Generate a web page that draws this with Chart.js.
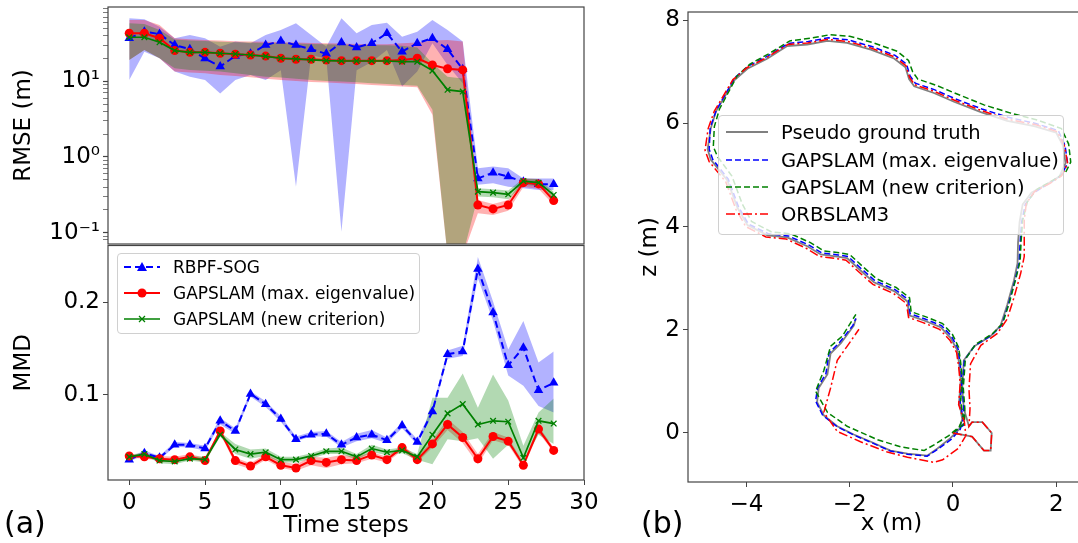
<!DOCTYPE html>
<html>
<head>
<meta charset="utf-8">
<script src="https://cdn.jsdelivr.net/npm/chart.js@4.4.1/dist/chart.umd.min.js"></script>
<style>
  body { margin: 0; background: #fff; font-family: 'DejaVu Sans', sans-serif; }
  #page { position: relative; width: 1078px; height: 543px; overflow: hidden; background: #fff; }
  .holder { position: absolute; }
  .legend { position: absolute; box-sizing: border-box; border: 1px solid #d0d0d0; border-radius: 4px; background: rgba(255, 255, 255, 0.8); color: #000; }
  .legend .row { position: absolute; left: 0; display: flex; align-items: center; white-space: nowrap; }
  .legend svg { display: block; }
  .panel-tag { position: absolute; font-size: 30px; line-height: 1; color: #000; }
</style>
</head>
<body>
<div id="page">
  <div class="holder" style="left:0;top:0;width:600px;height:250px;"><canvas id="rmseChart"></canvas></div>
  <div class="holder" style="left:0;top:240px;width:600px;height:303px;"><canvas id="mmdChart"></canvas></div>
  <div class="holder" style="left:620px;top:0;width:480px;height:543px;"><canvas id="trajChart"></canvas></div>

  <div class="legend" style="left:117px;top:253px;width:303px;height:81px;font-size:17px;">
    <div class="row" style="top:1px;height:24px;">
      <svg width="36" height="14" style="margin-left:6px"><line x1="0" y1="7" x2="36" y2="7" stroke="blue" stroke-width="2" stroke-dasharray="7 4"/><polygon points="18,2 23,11 13,11" fill="blue"/></svg>
      <span style="margin-left:13px">RBPF-SOG</span>
    </div>
    <div class="row" style="top:27px;height:24px;">
      <svg width="36" height="14" style="margin-left:6px"><line x1="0" y1="7" x2="36" y2="7" stroke="red" stroke-width="2"/><circle cx="18" cy="7" r="4.5" fill="red"/></svg>
      <span style="margin-left:13px">GAPSLAM (max. eigenvalue)</span>
    </div>
    <div class="row" style="top:53px;height:24px;">
      <svg width="36" height="14" style="margin-left:6px"><line x1="0" y1="7" x2="36" y2="7" stroke="green" stroke-width="1.7"/><path d="M15 4 L21 10 M21 4 L15 10" stroke="green" stroke-width="1.3"/></svg>
      <span style="margin-left:13px">GAPSLAM (new criterion)</span>
    </div>
  </div>

  <div class="legend" style="left:718px;top:115px;width:346px;height:120px;font-size:19.5px;">
    <div class="row" style="top:3px;height:26px;">
      <svg width="42" height="10" style="margin-left:7px"><line x1="0" y1="5" x2="42" y2="5" stroke="#808080" stroke-width="1.8"/></svg>
      <span style="margin-left:13px">Pseudo ground truth</span>
    </div>
    <div class="row" style="top:31px;height:26px;">
      <svg width="42" height="10" style="margin-left:7px"><line x1="0" y1="5" x2="42" y2="5" stroke="blue" stroke-width="1.6" stroke-dasharray="6 3"/></svg>
      <span style="margin-left:13px">GAPSLAM (max. eigenvalue)</span>
    </div>
    <div class="row" style="top:58px;height:26px;">
      <svg width="42" height="10" style="margin-left:7px"><line x1="0" y1="5" x2="42" y2="5" stroke="green" stroke-width="1.6" stroke-dasharray="6 3"/></svg>
      <span style="margin-left:13px">GAPSLAM (new criterion)</span>
    </div>
    <div class="row" style="top:85px;height:26px;">
      <svg width="42" height="10" style="margin-left:7px"><line x1="0" y1="5" x2="42" y2="5" stroke="red" stroke-width="1.6" stroke-dasharray="9 3 2 3"/></svg>
      <span style="margin-left:13px">ORBSLAM3</span>
    </div>
  </div>

  <div class="panel-tag" style="left:4px;top:508px;">(a)</div>
  <div class="panel-tag" style="left:641px;top:508px;">(b)</div>
</div>

<script>
// ---- time series (per time step) ----
const timeSteps = [0, 1, 2, 3, 4, 5, 6, 7, 8, 9, 10, 11, 12, 13, 14, 15, 16, 17, 18, 19, 20, 21, 22, 23, 24, 25, 26, 27, 28];

// RMSE (m), log axis
const rmseRbpf    = [37, 45, 42, 30, 26.5, 20, 15.6, 21.6, 23, 30, 34, 30, 26.5, 23, 32.4, 28, 31.8, 43, 24.6, 31.8, 37, 26.5, 14.4, 0.52, 0.62, 0.55, 0.47, 0.435, 0.435];
const rmseRbpfHi  = [68, 66, 52.6, 37, 40.9, 37, 28.6, 33.4, 31.8, 40.9, 47.6, 58.3, 40.9, 28.6, 68, 43, 55.4, 59.4, 38.8, 45.2, 64.6, 47.6, 33.4, 0.71, 0.745, 0.71, 0.52, 0.52, 0.52];
const rmseRbpfLo  = [10.4, 24.6, 20.1, 13.4, 11.5, 10.4, 6.9, 10.4, 12.1, 10.4, 14, 0.405, 22, 20, 0.103, 14, 18, 25.9, 8.5, 13.4, 31.8, 16.4, 9.4, 0.43, 0.45, 0.405, 0.386, 0.367, 0.367];

const rmseMaxEig   = [43, 43, 37, 25.4, 24.1, 24.1, 23.4, 22.7, 22.2, 21.5, 20.1, 19.5, 19.5, 19.1, 18.7, 18.7, 18.7, 18.7, 19.1, 20.1, 16.4, 14.6, 14.1, 0.232, 0.206, 0.232, 0.457, 0.44, 0.265];
const rmseMaxEigHi = [64.6, 64.6, 55.4, 37, 35.8, 35.1, 34.4, 33.7, 33.4, 33.1, 32.7, 32.4, 32.1, 31.7, 31.4, 31.1, 30.8, 30.8, 31.7, 32.4, 34.4, 35.1, 33.4, 0.27, 0.239, 0.27, 0.52, 0.51, 0.30];
const rmseMaxEigLo = [19.1, 25.9, 20.1, 13.4, 13.0, 12.7, 12.1, 11.7, 11.3, 10.8, 10.4, 10.1, 9.8, 9.6, 9.4, 9.2, 8.9, 8.7, 8.5, 8.3, 3.6, 0.05, 0.05, 0.18, 0.171, 0.195, 0.40, 0.38, 0.232];

const rmseNewCrit   = [38.1, 38.1, 32.7, 25.4, 24.1, 24.1, 23.4, 22.9, 22.2, 21.3, 20.1, 19.7, 19.1, 18.7, 18.5, 18.5, 18.5, 18.5, 18.1, 18.1, 13.8, 7.7, 7.3, 0.348, 0.338, 0.321, 0.48, 0.457, 0.315];
const rmseNewCritHi = [58.3, 57.2, 47.6, 35.5, 34.6, 34.0, 33.3, 32.7, 32.4, 32.1, 31.7, 31.4, 31.1, 30.7, 30.4, 30.1, 29.8, 29.8, 29.5, 28.0, 17.3, 11.5, 10.9, 0.385, 0.374, 0.359, 0.52, 0.51, 0.348];
const rmseNewCritLo = [19.1, 25.9, 20.1, 14.8, 14.1, 13.8, 13.4, 12.7, 12.1, 11.5, 11.2, 10.8, 10.4, 10.1, 9.9, 9.7, 9.4, 9.2, 8.9, 8.7, 4.2, 0.05, 0.05, 0.30, 0.293, 0.276, 0.43, 0.41, 0.276];

// MMD
const mmdRbpf    = [0.030, 0.037, 0.032, 0.046, 0.046, 0.042, 0.072, 0.061, 0.101, 0.090, 0.074, 0.052, 0.057, 0.058, 0.046, 0.054, 0.057, 0.051, 0.067, 0.049, 0.082, 0.144, 0.147, 0.236, 0.189, 0.132, 0.151, 0.105, 0.113];
const mmdRbpfHi  = [0.032, 0.040, 0.034, 0.049, 0.048, 0.045, 0.075, 0.064, 0.104, 0.093, 0.077, 0.055, 0.060, 0.061, 0.049, 0.058, 0.062, 0.054, 0.070, 0.052, 0.086, 0.148, 0.153, 0.249, 0.201, 0.149, 0.180, 0.135, 0.147];
const mmdRbpfLo  = [0.028, 0.035, 0.030, 0.044, 0.043, 0.040, 0.068, 0.058, 0.098, 0.087, 0.071, 0.050, 0.055, 0.055, 0.043, 0.050, 0.053, 0.048, 0.064, 0.046, 0.079, 0.139, 0.142, 0.226, 0.180, 0.121, 0.110, 0.088, 0.081];

const mmdMaxEig   = [0.034, 0.033, 0.031, 0.030, 0.033, 0.029, 0.061, 0.029, 0.023, 0.033, 0.024, 0.021, 0.029, 0.027, 0.030, 0.029, 0.035, 0.030, 0.043, 0.030, 0.047, 0.068, 0.054, 0.031, 0.055, 0.050, 0.024, 0.063, 0.040];
const mmdMaxEigHi = [0.036, 0.035, 0.034, 0.033, 0.036, 0.032, 0.064, 0.032, 0.026, 0.036, 0.028, 0.025, 0.033, 0.032, 0.035, 0.033, 0.038, 0.033, 0.046, 0.033, 0.051, 0.074, 0.060, 0.036, 0.060, 0.054, 0.027, 0.066, 0.043];
const mmdMaxEigLo = [0.032, 0.031, 0.029, 0.028, 0.031, 0.027, 0.058, 0.025, 0.020, 0.030, 0.021, 0.018, 0.024, 0.021, 0.025, 0.026, 0.031, 0.027, 0.040, 0.027, 0.043, 0.062, 0.048, 0.025, 0.051, 0.046, 0.021, 0.059, 0.038];

const mmdNewCrit   = [0.033, 0.036, 0.029, 0.028, 0.031, 0.030, 0.057, 0.041, 0.036, 0.038, 0.030, 0.030, 0.034, 0.039, 0.039, 0.033, 0.042, 0.038, 0.040, 0.033, 0.057, 0.080, 0.090, 0.068, 0.072, 0.071, 0.032, 0.072, 0.069];
const mmdNewCritHi = [0.035, 0.038, 0.031, 0.030, 0.034, 0.033, 0.060, 0.047, 0.041, 0.042, 0.033, 0.033, 0.037, 0.042, 0.043, 0.036, 0.046, 0.041, 0.043, 0.036, 0.097, 0.097, 0.123, 0.086, 0.122, 0.094, 0.045, 0.081, 0.096];
const mmdNewCritLo = [0.031, 0.035, 0.026, 0.025, 0.029, 0.027, 0.055, 0.036, 0.031, 0.034, 0.027, 0.027, 0.031, 0.036, 0.036, 0.030, 0.038, 0.035, 0.037, 0.030, 0.025, 0.052, 0.050, 0.053, 0.031, 0.046, 0.028, 0.057, 0.047];

// ---- tick values ----
const timeTicks = [0, 5, 10, 15, 20, 25, 30];
const rmseMajorTicks = [0.1, 1, 10];
const rmseTickLabels = ['10⁻¹', '10⁰', '10¹'];
const rmseMinorTicks = [0.08, 0.09, 0.2, 0.3, 0.4, 0.5, 0.6, 0.7, 0.8, 0.9, 2, 3, 4, 5, 6, 7, 8, 9, 20, 30, 40, 50, 60, 70, 80, 90];
const mmdTicks = [0.1, 0.2];
const xTicks = [-4, -2, 0, 2];
const zTicks = [0, 2, 4, 6, 8];

// ---- trajectories, [x, z] in metres ----
const gtPath = [
  [0.00, 0.00], [0.37, -0.07], [0.60, -0.34], [0.73, -0.34], [0.75, 0.00], [0.57, 0.21], [0.37, 0.21], [0.31, 0.13],
  [0.21, 0.47], [0.18, 0.87], [0.21, 1.41], [0.41, 1.68], [0.73, 1.88], [0.92, 2.08], [1.05, 2.48], [1.18, 2.95], [1.25, 3.29], [1.26, 3.69], [1.29, 4.09], [1.35, 4.43], [1.52, 4.66], [1.83, 4.83], [2.06, 4.97], [2.18, 5.23], [2.13, 5.57], [2.00, 5.82], [1.57, 5.95], [1.05, 6.05],
  [0.54, 6.22], [0.02, 6.42], [-0.37, 6.59], [-0.75, 6.72], [-0.85, 6.86], [-0.92, 7.09], [-1.14, 7.26], [-1.59, 7.43], [-2.05, 7.56], [-2.43, 7.60], [-2.82, 7.53], [-3.21, 7.50], [-3.59, 7.26], [-3.98, 7.06], [-4.24, 6.83], [-4.43, 6.50], [-4.59, 6.23], [-4.69, 5.90], [-4.75, 5.50], [-4.69, 5.30],
  [-4.37, 4.90], [-4.17, 4.36], [-3.98, 4.03], [-3.59, 3.83], [-3.21, 3.79], [-2.82, 3.62], [-2.56, 3.46], [-2.24, 3.42], [-2.05, 3.39], [-1.79, 3.15], [-1.53, 2.92], [-1.14, 2.75], [-0.88, 2.55], [-0.85, 2.28], [-0.56, 2.18], [-0.24, 2.05], [-0.05, 1.85], [0.08, 1.61], [0.12, 1.34], [0.15, 1.01], [0.12, 0.60], [0.18, 0.27], [0.12, 0.07], [-0.05, -0.10],
  [-0.30, -0.30], [-0.50, -0.44], [-0.88, -0.40], [-1.21, -0.34], [-1.59, -0.17], [-1.92, -0.03], [-2.24, 0.13], [-2.50, 0.34], [-2.63, 0.60], [-2.60, 0.87], [-2.43, 1.14], [-2.37, 1.54], [-2.17, 1.74], [-1.92, 2.08], [-1.88, 2.22]
];

const maxEigPath = [
  [0.00, 0.00], [0.20, 0.15],
  [0.21, 0.47], [0.18, 0.87], [0.22, 1.41], [0.42, 1.69], [0.74, 1.89], [0.94, 2.08], [1.07, 2.48], [1.20, 2.95], [1.28, 3.29], [1.30, 3.69], [1.33, 4.09], [1.40, 4.43], [1.57, 4.66], [1.88, 4.85], [2.10, 5.00], [2.22, 5.23], [2.17, 5.57], [2.04, 5.86], [1.60, 6.00], [1.07, 6.12],
  [0.56, 6.28], [0.04, 6.48], [-0.35, 6.65], [-0.73, 6.78], [-0.83, 6.92], [-0.90, 7.15], [-1.12, 7.32], [-1.57, 7.49], [-2.03, 7.62], [-2.41, 7.66], [-2.80, 7.59], [-3.19, 7.55], [-3.58, 7.31], [-3.97, 7.11], [-4.23, 6.88], [-4.42, 6.54], [-4.58, 6.26], [-4.70, 5.92], [-4.72, 5.50], [-4.65, 5.30],
  [-4.35, 4.92], [-4.15, 4.38], [-3.96, 4.05], [-3.57, 3.86], [-3.19, 3.82], [-2.80, 3.65], [-2.54, 3.49], [-2.22, 3.45], [-2.03, 3.42], [-1.77, 3.18], [-1.51, 2.95], [-1.12, 2.78], [-0.86, 2.58], [-0.83, 2.31], [-0.54, 2.21], [-0.22, 2.08], [-0.03, 1.88], [0.10, 1.63], [0.14, 1.34], [0.17, 1.01], [0.14, 0.60], [0.20, 0.27], [0.14, 0.07], [-0.03, -0.12],
  [-0.30, -0.32], [-0.50, -0.45], [-0.88, -0.41], [-1.21, -0.35], [-1.59, -0.18], [-1.92, -0.04], [-2.24, 0.12], [-2.52, 0.34], [-2.66, 0.62], [-2.62, 0.88], [-2.46, 1.15], [-2.40, 1.55], [-2.20, 1.75], [-1.94, 2.08], [-1.88, 2.22]
];

const newCritPath = [
  [0.00, 0.00], [0.22, 0.18],
  [0.23, 0.47], [0.20, 0.87], [0.24, 1.43], [0.44, 1.72], [0.76, 1.92], [0.96, 2.12], [1.09, 2.52], [1.22, 3.00], [1.30, 3.33], [1.32, 3.73], [1.35, 4.12], [1.44, 4.48], [1.62, 4.72], [1.94, 4.90], [2.18, 5.05], [2.28, 5.25], [2.24, 5.60], [2.10, 5.90], [1.65, 6.06], [1.12, 6.20],
  [0.60, 6.36], [0.08, 6.57], [-0.30, 6.73], [-0.68, 6.86], [-0.78, 7.00], [-0.86, 7.22], [-1.08, 7.40], [-1.53, 7.56], [-2.00, 7.69], [-2.38, 7.72], [-2.77, 7.65], [-3.16, 7.60], [-3.55, 7.36], [-3.93, 7.15], [-4.18, 6.92], [-4.36, 6.58], [-4.52, 6.28], [-4.62, 5.94], [-4.64, 5.55], [-4.56, 5.36],
  [-4.28, 4.98], [-4.08, 4.44], [-3.90, 4.10], [-3.52, 3.90], [-3.14, 3.86], [-2.76, 3.69], [-2.50, 3.53], [-2.19, 3.49], [-2.00, 3.46], [-1.74, 3.22], [-1.48, 2.99], [-1.10, 2.82], [-0.84, 2.62], [-0.81, 2.35], [-0.52, 2.25], [-0.20, 2.12], [-0.01, 1.91], [0.11, 1.66], [0.15, 1.36], [0.18, 1.02], [0.15, 0.62], [0.20, 0.30], [0.12, 0.12], [-0.08, -0.05],
  [-0.35, -0.22], [-0.56, -0.34], [-1.01, -0.27], [-1.46, -0.13], [-1.80, 0.02], [-2.05, 0.13], [-2.43, 0.40], [-2.66, 0.81], [-2.50, 1.21], [-2.37, 1.68], [-2.14, 1.88], [-1.88, 2.30]
];

const orbPath = [
  [0.00, 0.00], [0.37, -0.07], [0.60, -0.34], [0.73, -0.34], [0.75, 0.00], [0.57, 0.21], [0.37, 0.21], [0.31, 0.13],
  [0.33, 0.47], [0.31, 0.85], [0.34, 1.34], [0.54, 1.70], [0.86, 1.93], [1.05, 2.21], [1.18, 2.62], [1.31, 3.09], [1.38, 3.42], [1.38, 3.83], [1.38, 4.12], [1.42, 4.45], [1.58, 4.68], [1.88, 4.84], [2.10, 4.98], [2.22, 5.22], [2.16, 5.56], [2.02, 5.84], [1.59, 5.98], [1.06, 6.08],
  [0.55, 6.25], [0.03, 6.45], [-0.36, 6.62], [-0.74, 6.75], [-0.84, 6.89], [-0.91, 7.12], [-1.13, 7.29], [-1.58, 7.46], [-2.04, 7.59], [-2.42, 7.63], [-2.81, 7.56], [-3.20, 7.53], [-3.60, 7.28], [-3.99, 7.08], [-4.26, 6.85], [-4.46, 6.51], [-4.62, 6.24], [-4.74, 5.90], [-4.80, 5.48], [-4.72, 5.26],
  [-4.40, 4.87], [-4.20, 4.33], [-4.01, 4.00], [-3.62, 3.80], [-3.23, 3.76], [-2.84, 3.58], [-2.58, 3.42], [-2.26, 3.38], [-2.07, 3.35], [-1.81, 3.11], [-1.55, 2.88], [-1.16, 2.71], [-0.90, 2.51], [-0.86, 2.24], [-0.58, 2.14], [-0.26, 2.01], [-0.06, 1.80], [0.07, 1.56], [0.11, 1.29], [0.14, 0.96], [0.11, 0.55], [0.22, 0.22], [0.25, -0.05], [0.10, -0.30],
  [-0.20, -0.52], [-0.37, -0.57], [-0.88, -0.47], [-1.27, -0.37], [-1.79, -0.17], [-2.24, 0.03], [-2.50, 0.40], [-2.37, 0.87], [-2.24, 1.41], [-2.05, 1.68], [-1.82, 2.01]
];

// ---- shared helpers ----
Chart.defaults.font.family = "'DejaVu Sans', sans-serif";
Chart.defaults.color = '#000';

const AXIS_FONT = { size: 23 };
const SPINE = '#444';

// full box round the plot area, like a matplotlib frame
const frameBox = {
    id: 'frameBox',
    afterDraw(chart) {
        const { ctx, chartArea: a } = chart;
        ctx.save();
        ctx.strokeStyle = SPINE;
        ctx.lineWidth = 1.2;
        ctx.strokeRect(a.left, a.top, a.right - a.left, a.bottom - a.top);
        ctx.restore();
    }
};

function series(values) {
    return values.map((v, i) => ({ x: timeSteps[i], y: v }));
}

function path(points) {
    return points.map(p => ({ x: p[0], y: p[1] }));
}

function fixedTicks(values) {
    return scale => { scale.ticks = values.map(v => ({ value: v })); };
}

// shaded spread between hi and lo
function band(hi, lo, color) {
    return [
        { data: series(hi), borderWidth: 0, pointRadius: 0, fill: false, order: 10 },
        { data: series(lo), borderWidth: 0, pointRadius: 0, fill: '-1', backgroundColor: color, order: 10 }
    ];
}

const rbpfStyle = {
    borderColor: 'blue', borderWidth: 2, borderDash: [7, 4],
    pointStyle: 'triangle', pointRadius: 5.5, pointBackgroundColor: 'blue', pointBorderWidth: 0, order: 3
};
const maxEigStyle = {
    borderColor: 'red', borderWidth: 2,
    pointStyle: 'circle', pointRadius: 4.5, pointBackgroundColor: 'red', pointBorderWidth: 0, order: 2
};
const newCritStyle = {
    borderColor: 'green', borderWidth: 1.7,
    pointStyle: 'crossRot', pointRadius: 4, pointBorderColor: 'green', pointBorderWidth: 1.3, order: 1
};

function lineSet(values, style) {
    return Object.assign({ data: series(values), fill: false, tension: 0 }, style);
}

function baseOptions(padding) {
    return {
        animation: false,
        responsive: true,
        maintainAspectRatio: false,
        layout: { padding: padding },
        plugins: {
            legend: { display: false },
            tooltip: { enabled: false },
            filler: { drawTime: 'beforeDatasetsDraw' }
        }
    };
}

// the plot boxes are placed by hand, so labels must not push them around
function leftAxis(width, title, titlePad) {
    return {
        afterFit: s => { s.width = width; s.paddingTop = 0; s.paddingBottom = 0; },
        ticks: { font: AXIS_FONT, color: '#000', padding: 3, autoSkip: false },
        grid: { drawOnChartArea: false, tickLength: 5, tickColor: SPINE },
        border: { display: false },
        title: { display: true, text: title, font: AXIS_FONT, color: '#000', padding: { top: titlePad, bottom: 0 } }
    };
}

function bottomAxis(height, title, titlePad) {
    return {
        type: 'linear',
        afterFit: s => { s.height = height; s.paddingLeft = 0; s.paddingRight = 0; },
        ticks: { font: AXIS_FONT, color: '#000', padding: 4, autoSkip: false, maxRotation: 0 },
        grid: { drawOnChartArea: false, tickLength: 5, tickColor: SPINE },
        border: { display: false },
        title: { display: true, text: title, font: AXIS_FONT, color: '#000', padding: { top: 0, bottom: titlePad } }
    };
}

// ---- (a) top: RMSE ----
function initRmseChart() {
    const opts = baseOptions({ top: 7, right: 16, bottom: 6, left: 0 });
    const y = leftAxis(108, 'RMSE (m)', 10);
    y.type = 'logarithmic';
    y.min = 0.0708;
    y.max = 95.6;
    y.afterBuildTicks = fixedTicks(rmseMajorTicks.concat(rmseMinorTicks));
    y.ticks.callback = v => {
        const k = rmseMajorTicks.indexOf(v);
        return k >= 0 ? rmseTickLabels[k] : '';
    };
    y.grid.tickWidth = c => (rmseMajorTicks.indexOf(c.tick.value) >= 0 ? 1.2 : 0.7);
    opts.scales = {
        x: { type: 'linear', min: -1.4, max: 30, display: false },
        y: y
    };
    return new Chart(document.getElementById('rmseChart'), {
        type: 'line',
        data: {
            datasets: [
                lineSet(rmseNewCrit, newCritStyle),
                lineSet(rmseMaxEig, maxEigStyle),
                lineSet(rmseRbpf, rbpfStyle),
                ...band(rmseNewCritHi, rmseNewCritLo, 'rgba(0, 128, 0, 0.3)'),
                ...band(rmseMaxEigHi, rmseMaxEigLo, 'rgba(255, 0, 0, 0.3)'),
                ...band(rmseRbpfHi, rmseRbpfLo, 'rgba(0, 0, 255, 0.3)')
            ]
        },
        options: opts,
        plugins: [frameBox]
    });
}

// ---- (a) bottom: MMD ----
function initMmdChart() {
    const opts = baseOptions({ top: 4, right: 16, bottom: 0, left: 0 });
    const x = bottomAxis(63, 'Time steps', 3);
    x.min = -1.4;
    x.max = 30;
    x.afterBuildTicks = fixedTicks(timeTicks);
    const y = leftAxis(108, 'MMD', 10);
    y.type = 'linear';
    y.min = 0.008;
    y.max = 0.2615;
    y.afterBuildTicks = fixedTicks(mmdTicks);
    y.ticks.callback = v => v.toFixed(1);
    opts.scales = { x: x, y: y };
    return new Chart(document.getElementById('mmdChart'), {
        type: 'line',
        data: {
            datasets: [
                lineSet(mmdNewCrit, newCritStyle),
                lineSet(mmdMaxEig, maxEigStyle),
                lineSet(mmdRbpf, rbpfStyle),
                ...band(mmdNewCritHi, mmdNewCritLo, 'rgba(0, 128, 0, 0.3)'),
                ...band(mmdMaxEigHi, mmdMaxEigLo, 'rgba(255, 0, 0, 0.3)'),
                ...band(mmdRbpfHi, mmdRbpfLo, 'rgba(0, 0, 255, 0.3)')
            ]
        },
        options: opts,
        plugins: [frameBox]
    });
}

// ---- (b) trajectories ----
function initTrajChart() {
    const opts = baseOptions({ top: 12, right: 5, bottom: 0, left: 0 });
    const minus = v => String(v).replace('-', '\u2212');
    const x = bottomAxis(61, 'x (m)', 5);
    x.min = -5.13;
    x.max = 2.75;
    x.afterBuildTicks = fixedTicks(xTicks);
    x.ticks.callback = minus;
    const y = leftAxis(68, 'z (m)', 16);
    y.type = 'linear';
    y.min = -0.95;
    y.max = 8.16;
    y.afterBuildTicks = fixedTicks(zTicks);
    y.ticks.callback = minus;
    opts.scales = { x: x, y: y };

    const trace = (pts, color, dash, width, order) => ({
        data: path(pts), borderColor: color, borderWidth: width, borderDash: dash,
        pointRadius: 0, fill: false, tension: 0, order: order
    });
    return new Chart(document.getElementById('trajChart'), {
        type: 'line',
        data: {
            datasets: [
                trace(gtPath, '#808080', [], 1.8, 4),
                trace(maxEigPath, 'blue', [6, 3], 1.5, 3),
                trace(newCritPath, 'green', [6, 3], 1.5, 2),
                trace(orbPath, 'red', [9, 3, 2, 3], 1.5, 1)
            ]
        },
        options: opts,
        plugins: [frameBox]
    });
}

initRmseChart();
initMmdChart();
initTrajChart();
</script>
</body>
</html>
